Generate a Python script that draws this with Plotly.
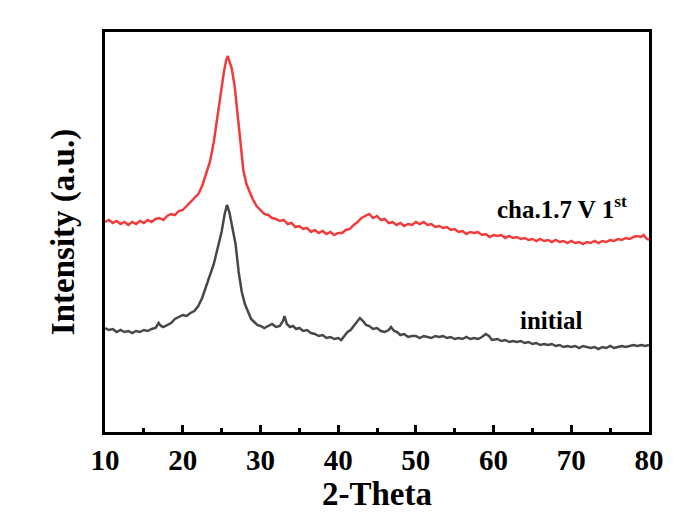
import plotly.graph_objects as go

# (2-Theta, intensity a.u.) pairs
cha_points = [
    (10.0, 210), (10.5, 212), (11.0, 209), (11.5, 211), (12.0, 208), (12.5, 210), (13.0, 207),
    (13.5, 210), (14.0, 208), (14.5, 211), (15.0, 209), (15.5, 212), (16.0, 210), (16.5, 213),
    (17.0, 214), (17.5, 212), (18.0, 216), (18.5, 218), (19.0, 217), (19.5, 221), (20.0, 222),
    (20.5, 226), (21.0, 229), (21.5, 233), (22.0, 238), (22.5, 246), (23.0, 257), (23.5, 270),
    (24.0, 290), (24.5, 318), (25.0, 345), (25.3, 360), (25.6, 372), (25.8, 376), (26.0, 371),
    (26.3, 364), (26.7, 345), (27.0, 322), (27.4, 290), (27.8, 262), (28.2, 248), (28.6, 240),
    (29.0, 233), (29.5, 226), (30.0, 222), (30.5, 218), (31.0, 217), (31.5, 214), (32.0, 213),
    (32.5, 211), (33.0, 212), (33.5, 208), (34.0, 209), (34.5, 205), (35.0, 206), (35.5, 203),
    (36.0, 204), (36.5, 200), (37.0, 202), (37.5, 199), (38.0, 201), (38.5, 198), (39.0, 200),
    (39.5, 197), (40.0, 199), (40.5, 199), (41.0, 202), (41.5, 203), (42.0, 207), (42.5, 210),
    (43.0, 214), (43.5, 216), (44.0, 218), (44.5, 214), (45.0, 216), (45.5, 212), (46.0, 213),
    (46.5, 209), (47.0, 210), (47.5, 207), (48.0, 209), (48.5, 206), (49.0, 208), (49.5, 207),
    (50.0, 210), (50.5, 208), (51.0, 210), (51.5, 207), (52.0, 208), (52.5, 205), (53.0, 206),
    (53.5, 204), (54.0, 205), (54.5, 202), (55.0, 203), (55.5, 200), (56.0, 201), (56.5, 198),
    (57.0, 200), (57.5, 199), (58.0, 200), (58.5, 197), (59.0, 198), (59.5, 195), (60.0, 197),
    (60.5, 196), (61.0, 197), (61.5, 194), (62.0, 196), (62.5, 194), (63.0, 195), (63.5, 193),
    (64.0, 194), (64.5, 192), (65.0, 193), (65.5, 191), (66.0, 193), (66.5, 191), (67.0, 192),
    (67.5, 190), (68.0, 192), (68.5, 190), (69.0, 191), (69.5, 189), (70.0, 191), (70.5, 189),
    (71.0, 190), (71.5, 188), (72.0, 190), (72.5, 189), (73.0, 191), (73.5, 189), (74.0, 191),
    (74.5, 190), (75.0, 192), (75.5, 191), (76.0, 193), (76.5, 192), (77.0, 194), (77.5, 193),
    (78.0, 195), (78.5, 196), (79.0, 195), (79.3, 197), (79.6, 194), (80.0, 192),
]

init_points = [
    (10.0, 104), (10.5, 102), (11.0, 103), (11.5, 100), (12.0, 102), (12.5, 100), (13.0, 101),
    (13.5, 99), (14.0, 101), (14.5, 100), (15.0, 102), (15.5, 101), (16.0, 103), (16.5, 104),
    (16.9, 109), (17.2, 106), (17.5, 105), (18.0, 107), (18.5, 109), (19.0, 113), (19.5, 115),
    (20.0, 117), (20.5, 116), (21.0, 119), (21.5, 121), (22.0, 126), (22.5, 134), (23.0, 145),
    (23.5, 157), (24.0, 168), (24.5, 184), (25.0, 200), (25.4, 218), (25.7, 227), (26.0, 220),
    (26.4, 203), (26.8, 188), (27.2, 160), (27.6, 140), (28.0, 128), (28.4, 120), (28.8, 113),
    (29.2, 110), (29.6, 107), (30.0, 106), (30.5, 104), (31.0, 106), (31.5, 108), (32.0, 105),
    (32.5, 106), (32.9, 111), (33.1, 116), (33.4, 108), (33.8, 105), (34.2, 106), (34.6, 103),
    (35.0, 104), (35.5, 101), (36.0, 102), (36.5, 99), (37.0, 98), (37.5, 96), (38.0, 97),
    (38.5, 94), (39.0, 95), (39.5, 93), (40.0, 94), (40.4, 92), (40.8, 96), (41.2, 100),
    (41.6, 102), (42.0, 106), (42.4, 109), (42.8, 114), (43.2, 111), (43.6, 107), (44.0, 106),
    (44.5, 103), (45.0, 104), (45.5, 101), (46.0, 100), (46.5, 102), (46.8, 105), (47.2, 101),
    (47.6, 100), (48.0, 97), (48.5, 98), (49.0, 95), (49.5, 96), (50.0, 96), (50.5, 94),
    (51.0, 96), (51.5, 95), (52.0, 94), (52.5, 96), (53.0, 95), (53.5, 96), (54.0, 94),
    (54.5, 95), (55.0, 93), (55.5, 94), (56.0, 93), (56.5, 95), (57.0, 93), (57.5, 94),
    (58.0, 93), (58.5, 95), (59.0, 98), (59.4, 96), (59.8, 92), (60.5, 93), (61.0, 91),
    (61.5, 92), (62.0, 90), (62.5, 91), (63.0, 90), (63.5, 91), (64.0, 89), (64.5, 90),
    (65.0, 88), (65.5, 89), (66.0, 87), (66.5, 88), (67.0, 87), (67.5, 88), (68.0, 86),
    (68.5, 87), (69.0, 85), (69.5, 86), (70.0, 85), (70.5, 86), (71.0, 84), (71.5, 86),
    (72.0, 85), (72.5, 84), (73.0, 85), (73.5, 83), (74.0, 85), (74.5, 84), (75.0, 86),
    (75.5, 84), (76.0, 85), (76.5, 86), (77.0, 85), (77.5, 86), (78.0, 87), (78.5, 86),
    (79.0, 87), (79.5, 86), (80.0, 87),
]

cha_theta = [p[0] for p in cha_points]
cha_int = [p[1] for p in cha_points]
init_theta = [p[0] for p in init_points]
init_int = [p[1] for p in init_points]

x_ticks = [10, 20, 30, 40, 50, 60, 70, 80]
labels = ["cha.1.7 V 1<sup>st</sup>", "initial"]

FONT = "Liberation Serif"

fig = go.Figure()
fig.add_trace(go.Scatter(x=init_theta, y=init_int, mode="lines",
                         line=dict(color="#474747", width=2.5), showlegend=False))
fig.add_trace(go.Scatter(x=cha_theta, y=cha_int, mode="lines",
                         line=dict(color="#f23a3a", width=2.5), showlegend=False))

fig.add_annotation(x=68.8, y=225, text="<b>" + labels[0] + "</b>", showarrow=False,
                   font=dict(family=FONT, size=25, color="black"))
fig.add_annotation(x=67.5, y=112, text="<b>" + labels[1] + "</b>", showarrow=False,
                   font=dict(family=FONT, size=25, color="black"))

fig.update_layout(
    width=697, height=526,
    margin=dict(l=105, r=48, t=32, b=94),
    paper_bgcolor="white", plot_bgcolor="white",
    font=dict(family=FONT, color="black"),
    xaxis=dict(range=[10, 80], tickvals=x_ticks, ticktext=["<b>%d</b>" % v for v in x_ticks],
               ticks="inside", ticklen=7, tickwidth=2.5, tickcolor="black",
               minor=dict(ticks="inside", ticklen=4, tickwidth=2.5, dtick=5, tick0=5, tickcolor="black"),
               showline=True, linewidth=3, linecolor="black", mirror=True,
               showgrid=False, zeroline=False,
               tickfont=dict(family=FONT, size=29, color="black"),
               title=dict(text="<b>2-Theta</b>", font=dict(family=FONT, size=33, color="black"), standoff=6)),
    yaxis=dict(range=[0, 400], showticklabels=False, ticks="",
               showline=True, linewidth=3, linecolor="black", mirror=True,
               showgrid=False, zeroline=False,
               title=dict(text="<b>Intensity (a.u.)</b>", font=dict(family=FONT, size=33, color="black"), standoff=18)),
)

fig.write_html("out.html")
